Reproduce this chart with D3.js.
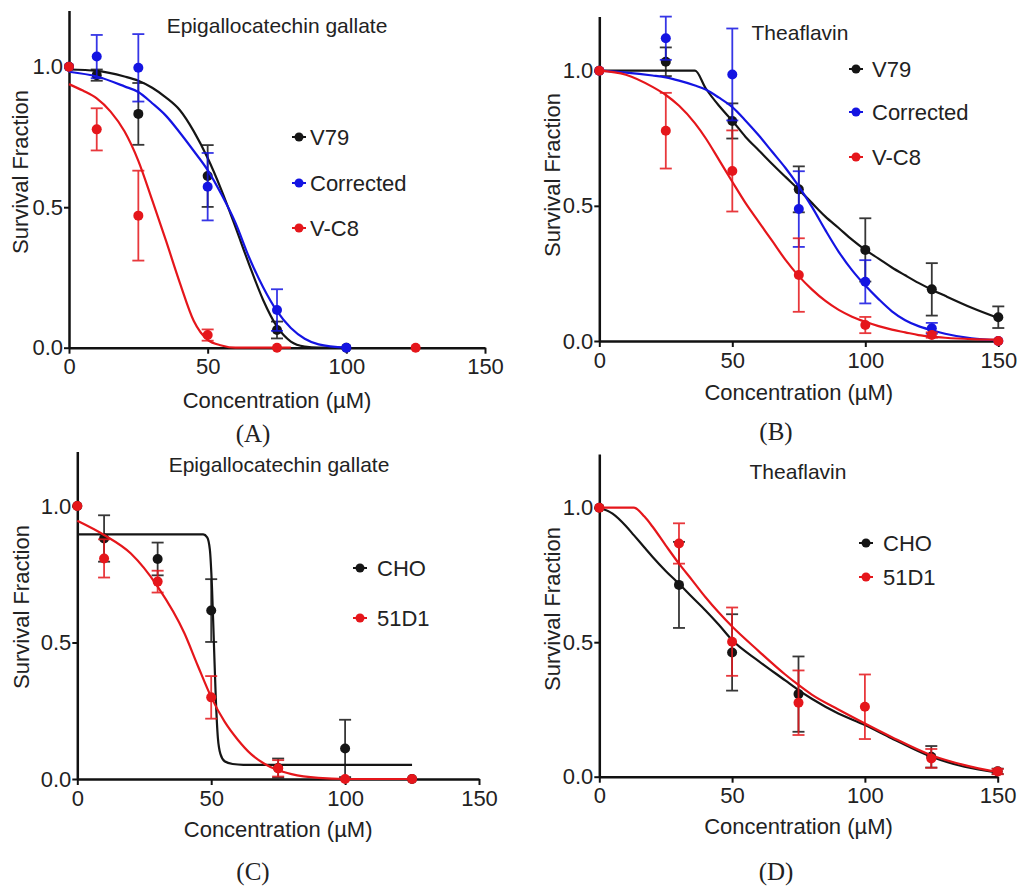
<!DOCTYPE html>
<html>
<head>
<meta charset="utf-8">
<script src="https://cdn.jsdelivr.net/npm/d3@7"></script>
<style>
  body { margin: 0; background: #fff; }
  svg text { font-family: "Liberation Sans", Arial, sans-serif; fill: #222; }
  .letter { font-family: "Liberation Serif", "Times New Roman", serif; }
</style>
</head>
<body>
<svg id="chart" width="1019" height="886"></svg>
<script>
// ---- values ----
const xTicks = [0, 50, 100, 150];
const yTicks = [0, 0.5, 1.0];

// (A) Epigallocatechin gallate, V79 / Corrected / V-C8
const aV79Dose = [0, 10, 25, 50, 75, 100];
const aV79Surv = [1.0, 0.97, 0.832, 0.611, 0.063, 0.0];
const aV79Err  = [0, 0.02, 0.11, 0.11, 0.03, 0];
const aCorrDose = [0, 10, 25, 50, 75, 100];
const aCorrSurv = [1.0, 1.036, 0.996, 0.573, 0.134, 0.0];
const aCorrErr  = [0, 0.077, 0.12, 0.12, 0.074, 0];
const aVC8Dose = [0, 10, 25, 50, 75, 125];
const aVC8Surv = [1.0, 0.777, 0.47, 0.045, 0.0, 0.0];
const aVC8Err  = [0, 0.075, 0.16, 0.02, 0, 0];
const aFitDose = [0, 10, 20, 25, 30, 35, 40, 45, 50, 55, 60, 65, 70, 75, 80, 85, 90, 100];
const aV79Fit  = [0.99, 0.985, 0.965, 0.95, 0.925, 0.89, 0.845, 0.77, 0.675, 0.56, 0.43, 0.295, 0.17, 0.075, 0.022, 0.004, 0, 0];
const aCorrFit = [0.982, 0.965, 0.93, 0.91, 0.87, 0.825, 0.765, 0.7, 0.632, 0.545, 0.445, 0.32, 0.215, 0.13, 0.07, 0.032, 0.012, 0];
const aVC8FitDose = [0, 5, 10, 15, 20, 25, 30, 35, 40, 45, 50, 55, 60, 80];
const aVC8Fit     = [0.938, 0.915, 0.887, 0.84, 0.77, 0.665, 0.525, 0.38, 0.23, 0.095, 0.028, 0.008, 0, 0];

// (B) Theaflavin, V79 / Corrected / V-C8
const bDose = [0, 25, 50, 75, 100, 125, 150];
const bV79Surv  = [1.0, 1.033, 0.814, 0.561, 0.337, 0.191, 0.088];
const bV79Err   = [0, 0.053, 0.065, 0.085, 0.117, 0.097, 0.04];
const bCorrSurv = [1.0, 1.12, 0.986, 0.488, 0.219, 0.047, 0.0];
const bCorrErr  = [0, 0.08, 0.17, 0.14, 0.08, 0.02, 0];
const bVC8Surv  = [1.0, 0.778, 0.629, 0.244, 0.059, 0.022, 0.0];
const bVC8Err   = [0, 0.14, 0.15, 0.136, 0.03, 0.01, 0];
const bFitDose = [0, 10, 20, 25, 30, 36, 40, 45, 50, 55, 60, 65, 70, 75, 80, 85, 90, 95, 100, 105, 110, 115, 120, 125, 130, 140, 150];
const bV79Fit  = [1, 1, 1, 1, 1, 1, 0.935, 0.87, 0.815, 0.755, 0.705, 0.655, 0.607, 0.56, 0.51, 0.46, 0.418, 0.375, 0.337, 0.305, 0.272, 0.243, 0.215, 0.19, 0.167, 0.123, 0.085];
const bCorrFit = [1, 0.993, 0.982, 0.975, 0.963, 0.945, 0.93, 0.9, 0.865, 0.815, 0.76, 0.7, 0.64, 0.572, 0.495, 0.41, 0.33, 0.262, 0.205, 0.155, 0.11, 0.077, 0.055, 0.04, 0.027, 0.01, 0.003];
const bVC8Fit  = [1, 0.985, 0.94, 0.91, 0.87, 0.805, 0.75, 0.67, 0.589, 0.51, 0.44, 0.37, 0.3, 0.24, 0.19, 0.148, 0.115, 0.09, 0.071, 0.055, 0.042, 0.032, 0.022, 0.016, 0.012, 0.007, 0.005];

// (C) Epigallocatechin gallate, CHO / 51D1
const cDose = [0, 10, 30, 50, 75, 100, 125];
const cCHOSurv = [1.0, 0.881, 0.806, 0.617, 0.04, 0.112, 0.0];
const cCHOErr  = [0, 0.085, 0.06, 0.115, 0.035, 0.105, 0];
const c51D1Surv = [1.0, 0.808, 0.723, 0.299, 0.039, 0.0, 0.0];
const c51D1Err  = [0, 0.07, 0.04, 0.078, 0.03, 0, 0];
const cCHOFitDose = [0, 10, 20, 30, 40, 47, 48.5, 49.5, 50.3, 51, 51.7, 52.5, 53.5, 55, 58, 62, 80, 100, 125];
const cCHOFit     = [0.896, 0.896, 0.896, 0.896, 0.896, 0.896, 0.885, 0.84, 0.7, 0.5, 0.3, 0.15, 0.09, 0.065, 0.055, 0.052, 0.052, 0.052, 0.052];
const c51D1FitDose = [0, 10, 20, 30, 40, 45, 50, 55, 60, 65, 70, 75, 80, 90, 100, 125];
const c51D1Fit     = [0.946, 0.894, 0.826, 0.705, 0.534, 0.415, 0.3, 0.21, 0.143, 0.09, 0.055, 0.032, 0.018, 0.004, 0, 0];

// (D) Theaflavin, CHO / 51D1
const dCHODose = [0, 30, 50, 75, 125, 150];
const dCHOSurv = [1.0, 0.713, 0.462, 0.307, 0.074, 0.02];
const dCHOErr  = [0, 0.16, 0.142, 0.14, 0.04, 0.01];
const d51D1Dose = [0, 30, 50, 75, 100, 125, 150];
const d51D1Surv = [1.0, 0.867, 0.502, 0.275, 0.26, 0.068, 0.019];
const d51D1Err  = [0, 0.075, 0.127, 0.12, 0.12, 0.035, 0.01];
const dFitDose = [0, 5, 10, 13, 17, 20, 25, 30, 35, 40, 45, 50, 60, 70, 75, 80, 90, 100, 110, 125, 137.5, 150];
const dCHOFit  = [1.0, 0.978, 0.932, 0.898, 0.852, 0.818, 0.765, 0.717, 0.667, 0.618, 0.565, 0.508, 0.43, 0.358, 0.322, 0.29, 0.235, 0.192, 0.143, 0.074, 0.037, 0.015];
const d51D1Fit = [1.0, 1.0, 1.0, 1.0, 0.967, 0.93, 0.86, 0.792, 0.73, 0.667, 0.61, 0.558, 0.467, 0.38, 0.341, 0.305, 0.25, 0.198, 0.148, 0.08, 0.043, 0.017];

const BLACK = "#151515", BLUE = "#1414e2", RED = "#e5161b";

function series(name, color, dose, surv, err, fitDose, fit) {
    return {
        name: name, color: color,
        points: dose.map((d, i) => ({x: d, y: surv[i], e: err[i]})),
        fit: fitDose.map((d, i) => [d, fit[i]])
    };
}

var panels = [
    {left: 69, right: 485, top: 10.5, bottom: 347.7,
     title: "Epigallocatechin gallate", titleX: 277, titleY: 33,
     xTitleY: 408, yTitleX: 20, yTitleY: 172,
     letter: "(A)", letterX: 253, letterY: 442,
     legX: 299, legTextX: 310, legY: [137, 183, 228],
     series: [
        series("V79", BLACK, aV79Dose, aV79Surv, aV79Err, aFitDose, aV79Fit),
        series("Corrected", BLUE, aCorrDose, aCorrSurv, aCorrErr, aFitDose, aCorrFit),
        series("V-C8", RED, aVC8Dose, aVC8Surv, aVC8Err, aVC8FitDose, aVC8Fit)
     ]},
    {left: 599.3, right: 998.3, top: 16.6, bottom: 341,
     title: "Theaflavin", titleX: 800, titleY: 40,
     xTitleY: 400, yTitleX: 552, yTitleY: 175,
     letter: "(B)", letterX: 776, letterY: 440,
     legX: 856, legTextX: 872, legY: [69, 112, 157],
     series: [
        series("V79", BLACK, bDose, bV79Surv, bV79Err, bFitDose, bV79Fit),
        series("Corrected", BLUE, bDose, bCorrSurv, bCorrErr, bFitDose, bCorrFit),
        series("V-C8", RED, bDose, bVC8Surv, bVC8Err, bFitDose, bVC8Fit)
     ]},
    {left: 77.3, right: 479, top: 451.4, bottom: 779,
     title: "Epigallocatechin gallate", titleX: 279, titleY: 472,
     xTitleY: 837, yTitleX: 21, yTitleY: 607,
     letter: "(C)", letterX: 253, letterY: 880,
     legX: 360, legTextX: 377, legY: [568, 618],
     series: [
        series("CHO", BLACK, cDose, cCHOSurv, cCHOErr, cCHOFitDose, cCHOFit),
        series("51D1", RED, cDose, c51D1Surv, c51D1Err, c51D1FitDose, c51D1Fit)
     ]},
    {left: 599.3, right: 997.7, top: 453.9, bottom: 776.7,
     title: "Theaflavin", titleX: 798, titleY: 479,
     xTitleY: 834, yTitleX: 552, yTitleY: 609,
     letter: "(D)", letterX: 776, letterY: 880,
     legX: 866, legTextX: 883, legY: [543, 577],
     series: [
        series("CHO", BLACK, dCHODose, dCHOSurv, dCHOErr, dFitDose, dCHOFit),
        series("51D1", RED, d51D1Dose, d51D1Surv, d51D1Err, dFitDose, d51D1Fit)
     ]}
];

var svg = d3.select("#chart");

function drawPanel(p) {
    var x = d3.scaleLinear().domain([0, 150]).range([p.left, p.right]);
    var y = d3.scaleLinear().domain([0, 1.2]).range([p.bottom, p.top]);
    var g = svg.append("g");

    // axes
    var xAxis = g.append("g")
        .attr("transform", `translate(0,${p.bottom})`)
        .call(d3.axisBottom(x).tickValues(xTicks).tickSize(6).tickSizeOuter(0).tickPadding(5));
    var yAxis = g.append("g")
        .attr("transform", `translate(${p.left},0)`)
        .call(d3.axisLeft(y).tickValues(yTicks).tickFormat(d3.format(".1f")).tickSize(5).tickSizeOuter(0).tickPadding(1));
    [xAxis, yAxis].forEach(function(a) {
        a.attr("font-size", 22).attr("font-family", null).style("color", "#111");
        a.select(".domain").attr("stroke-width", 2.5);
        a.selectAll(".tick line").attr("stroke-width", 2);
    });

    // axis titles
    g.append("text").attr("x", (p.left + p.right) / 2).attr("y", p.xTitleY)
        .attr("text-anchor", "middle").attr("font-size", 22)
        .text("Concentration (\u00b5M)");
    g.append("text")
        .attr("transform", `translate(${p.yTitleX},${p.yTitleY}) rotate(-90)`)
        .attr("dy", "0.35em").attr("text-anchor", "middle").attr("font-size", 22)
        .text("Survival Fraction");
    g.append("text").attr("x", p.titleX).attr("y", p.titleY)
        .attr("text-anchor", "middle").attr("font-size", 21)
        .text(p.title);
    g.append("text").attr("class", "letter").attr("x", p.letterX).attr("y", p.letterY)
        .attr("text-anchor", "middle").attr("font-size", 25)
        .text(p.letter);

    var line = d3.line()
        .x(function(d) { return x(d[0]); })
        .y(function(d) { return y(d[1]); })
        .curve(d3.curveMonotoneX);

    p.series.forEach(function(s, i) {
        var sg = g.append("g");
        sg.append("path").datum(s.fit)
            .attr("d", line).attr("fill", "none")
            .attr("stroke", s.color).attr("stroke-width", 2.2);

        var bars = sg.selectAll(".bar").data(s.points.filter(d => d.e > 0)).join("g")
            .attr("stroke", s.color).attr("stroke-width", 1.8).attr("opacity", 0.85);
        bars.append("line")
            .attr("x1", d => x(d.x)).attr("x2", d => x(d.x))
            .attr("y1", d => y(d.y - d.e)).attr("y2", d => y(d.y + d.e));
        [-1, 1].forEach(function(sign) {
            bars.append("line")
                .attr("x1", d => x(d.x) - 6).attr("x2", d => x(d.x) + 6)
                .attr("y1", d => y(d.y + sign * d.e)).attr("y2", d => y(d.y + sign * d.e));
        });

        sg.selectAll("circle").data(s.points).join("circle")
            .attr("cx", d => x(d.x)).attr("cy", d => y(d.y))
            .attr("r", 5).attr("fill", s.color);

        // legend entry
        var ly = p.legY[i];
        sg.append("line").attr("x1", p.legX - 7).attr("x2", p.legX + 7)
            .attr("y1", ly).attr("y2", ly).attr("stroke", s.color).attr("stroke-width", 2);
        sg.append("circle").attr("cx", p.legX).attr("cy", ly).attr("r", 4.5).attr("fill", s.color);
        sg.append("text").attr("x", p.legTextX).attr("y", ly).attr("dy", "0.36em")
            .attr("font-size", 22).text(s.name);
    });
}

panels.forEach(drawPanel);
</script>
</body>
</html>
